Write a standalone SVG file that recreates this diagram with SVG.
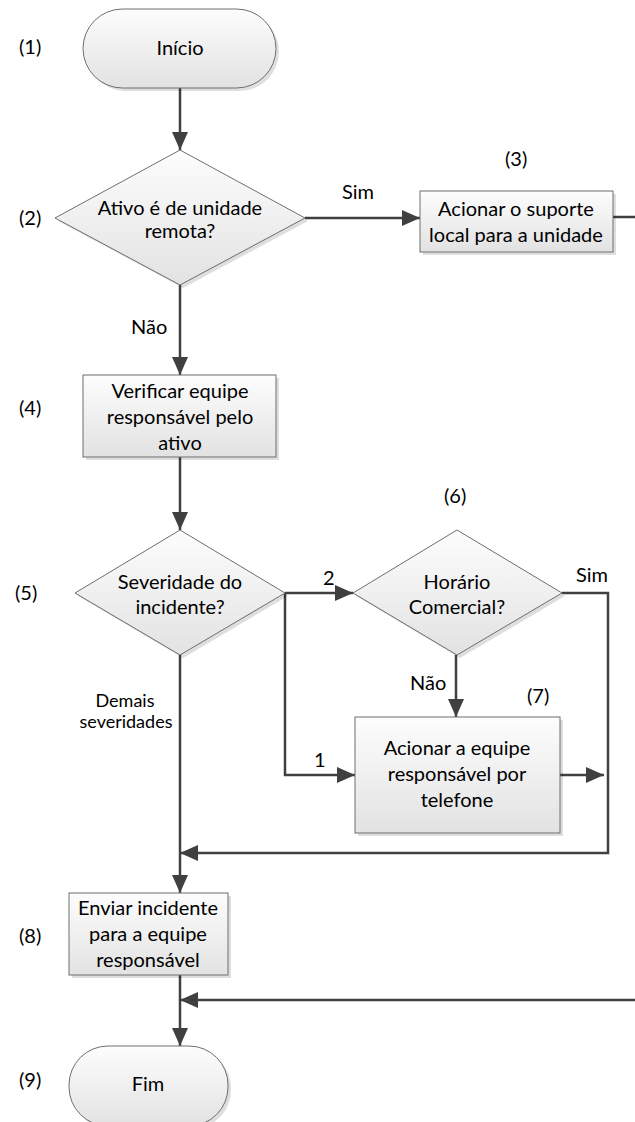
<svg xmlns="http://www.w3.org/2000/svg" width="635" height="1122" viewBox="0 0 635 1122">
<style>
.t{font-family:Lato,"Liberation Sans",sans-serif;font-size:20px;fill:#000;text-anchor:middle}
.l{font-family:Lato,"Liberation Sans",sans-serif;font-size:20px;fill:#000}
.d{font-family:Lato,"Liberation Sans",sans-serif;font-size:18px;fill:#000;text-anchor:middle}
.s{fill:#000;opacity:0.13}
.n{fill:url(#g);stroke:#6e6e6e;stroke-width:1}
.c{fill:none;stroke:#404040;stroke-width:2.5}
</style>
<defs>
<linearGradient id="g" x1="0" y1="0" x2="0" y2="1">
<stop offset="0" stop-color="#fdfdfd"/>
<stop offset="1" stop-color="#e2e2e2"/>
</linearGradient>
<marker id="a" viewBox="0 0 18 16" refX="18" refY="8" markerWidth="18" markerHeight="16" markerUnits="userSpaceOnUse" orient="auto">
<path d="M0,0 L18,8 L0,16 z" fill="#404040"/>
</marker>
</defs>

<g id="labels">
<text class="l" x="19" y="54">(1)</text>
<text class="l" x="19" y="225">(2)</text>
<text class="l" x="505" y="166">(3)</text>
<text class="l" x="19" y="415">(4)</text>
<text class="l" x="15" y="600">(5)</text>
<text class="l" x="444" y="503">(6)</text>
<text class="l" x="527" y="703">(7)</text>
<text class="l" x="19" y="943">(8)</text>
<text class="l" x="19" y="1087">(9)</text>
</g>

<g id="connectors">
<path class="c" d="M180,88 V150" marker-end="url(#a)"/>
<path class="c" d="M305,218 H420" marker-end="url(#a)"/>
<path class="c" d="M613,217 H635"/>
<path class="c" d="M180,285 V375" marker-end="url(#a)"/>
<path class="c" d="M180,457 V530" marker-end="url(#a)"/>
<path class="c" d="M285,593 H353" marker-end="url(#a)"/>
<path class="c" d="M285,593 V775 H355" marker-end="url(#a)"/>
<path class="c" d="M562,593 H608 V853 H180" marker-end="url(#a)"/>
<path class="c" d="M456,655 V717" marker-end="url(#a)"/>
<path class="c" d="M560,775 H604" marker-end="url(#a)"/>
<path class="c" d="M180,655 V893" marker-end="url(#a)"/>
<path class="c" d="M180,975 V1046" marker-end="url(#a)"/>
<path class="c" d="M635,1000 H180" marker-end="url(#a)"/>
<text class="l" x="342" y="199">Sim</text>
<text class="l" x="131" y="334">Não</text>
<text class="l" x="323" y="585">2</text>
<text class="l" x="314" y="767">1</text>
<text class="l" x="576" y="582">Sim</text>
<text class="l" x="410" y="690">Não</text>
<text class="d" x="125" y="707">Demais</text>
<text class="d" x="126" y="728">severidades</text>
</g>

<g id="n1">
<rect class="s" x="86" y="12" width="193" height="79" rx="39.5"/>
<rect class="n" x="83" y="9" width="193" height="79" rx="39.5"/>
<text class="t" x="180" y="55">Início</text>
</g>

<g id="n2">
<polygon class="s" points="183,153 308,221 183,288 58,221"/>
<polygon class="n" points="180,150 305,218 180,285 55,218"/>
<text class="t" x="180" y="215">Ativo é de unidade</text>
<text class="t" x="180" y="238">remota?</text>
</g>

<g id="n3">
<rect class="s" x="423" y="194" width="193" height="61"/>
<rect class="n" x="420" y="191" width="193" height="61"/>
<text class="t" x="516" y="216">Acionar o suporte</text>
<text class="t" x="516" y="242">local para a unidade</text>
</g>

<g id="n4">
<rect class="s" x="86" y="378" width="193" height="82"/>
<rect class="n" x="83" y="375" width="193" height="82"/>
<text class="t" x="180" y="398">Verificar equipe</text>
<text class="t" x="180" y="424">responsável pelo</text>
<text class="t" x="180" y="450">ativo</text>
</g>

<g id="n5">
<polygon class="s" points="183,533 288,596 183,658 78,596"/>
<polygon class="n" points="180,530 285,593 180,655 75,593"/>
<text class="t" x="180" y="589">Severidade do</text>
<text class="t" x="180" y="614">incidente?</text>
</g>

<g id="n6">
<polygon class="s" points="460,533 565,596 460,658 356,596"/>
<polygon class="n" points="457,530 562,593 457,655 353,593"/>
<text class="t" x="457" y="589">Horário</text>
<text class="t" x="457" y="614">Comercial?</text>
</g>

<g id="n7">
<rect class="s" x="358" y="720" width="205" height="116"/>
<rect class="n" x="355" y="717" width="205" height="116"/>
<text class="t" x="457" y="755">Acionar a equipe</text>
<text class="t" x="457" y="781">responsável por</text>
<text class="t" x="457" y="807">telefone</text>
</g>

<g id="n8">
<rect class="s" x="72" y="896" width="159" height="82"/>
<rect class="n" x="69" y="893" width="159" height="82"/>
<text class="t" x="148" y="915">Enviar incidente</text>
<text class="t" x="148" y="941">para a equipe</text>
<text class="t" x="148" y="967">responsável</text>
</g>

<g id="n9">
<rect class="s" x="72" y="1049" width="159" height="80" rx="39"/>
<rect class="n" x="69" y="1046" width="159" height="80" rx="39"/>
<text class="t" x="148" y="1091">Fim</text>
</g>
</svg>
